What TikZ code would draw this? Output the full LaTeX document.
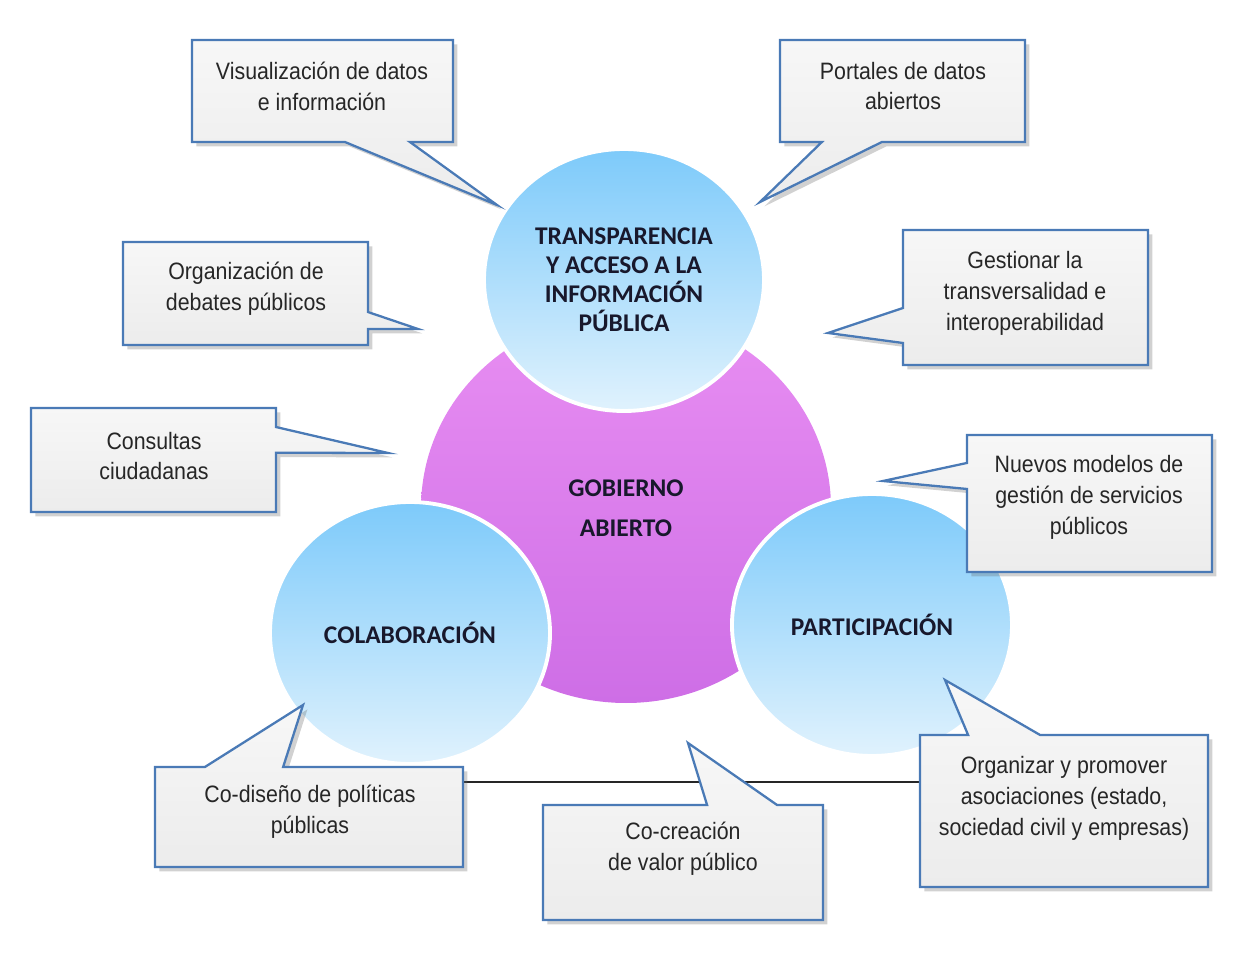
\documentclass[tikz,border=0pt]{standalone}
\usepackage{fontspec}
\setmainfont{Liberation Sans}
\newfontfamily\callfont{Liberation Sans}[FakeStretch=0.9]
\newfontfamily\circfont{Carlito}
\usetikzlibrary{calc, shapes.geometric, shadows}
\definecolor{boxblue}{RGB}{74,122,182}
\definecolor{boxtop}{RGB}{247,247,247}
\definecolor{boxbot}{RGB}{236,236,236}
\definecolor{skytop}{RGB}{125,202,250}
\definecolor{skybot}{RGB}{224,242,253}
\definecolor{magtop}{RGB}{232,142,242}
\definecolor{magmid}{RGB}{210,114,234}
\definecolor{magbot}{RGB}{206,110,230}
\definecolor{inktext}{RGB}{38,38,38}
\definecolor{inkbold}{RGB}{24,24,44}
\pgfdeclarelayer{front}
\pgfsetlayers{main,front}

\begin{document}
\begin{tikzpicture}[x=0.02cm, y=-0.02cm,
    blob/.style={ellipse, inner sep=0pt, text=inkbold, align=center,
                 font=\circfont\bfseries\fontsize{14.5}{16.5}\selectfont},
    pillar/.style={blob, minimum width=280*0.02cm, minimum height=262*0.02cm,
                   draw=white, line width=2.2pt, top color=skytop, bottom color=skybot},
    callbox/.style 2 args={rectangle, inner sep=0pt, outer sep=0pt,
                   minimum width=#1*0.02cm, minimum height=#2*0.02cm},
    callline/.style={draw=boxblue, line width=1.3pt, top color=boxtop, bottom color=boxbot,
                   drop shadow={shadow xshift=2.5pt, shadow yshift=-2.5pt, opacity=0.3, fill=black!60}},
    calltext/.style={font=\callfont\fontsize{13.5}{17.6}\selectfont, text=inktext, align=center}]
  \useasboundingbox (0,0) rectangle (1254,962);

  % core and the three pillars
  \node[blob, minimum width=410*0.02cm, minimum height=390*0.02cm,
        top color=magtop, middle color=magmid, bottom color=magbot,
        font=\circfont\bfseries\fontsize{14.5}{22.8}\selectfont] (gobierno) at (626,508) {GOBIERNO\\ABIERTO};
  \node[pillar] (transp) at (624,280) {TRANSPARENCIA\\Y ACCESO A LA\\INFORMACIÓN\\PÚBLICA};
  \node[pillar] (colab) at (410,633) {COLABORACIÓN};
  \node[pillar] (partic) at (872,625) {PARTICIPACIÓN};

  % callout frames (empty) and pointer tips
  \foreach \n/\x/\y/\w/\h in {visual/322.5/91/261/102, portal/902.5/91/245/102,
      debate/245.5/293.5/245/103, gestion/1025.5/297.5/245/135, consulta/153.5/460/245/104,
      nuevo/1089.5/503.5/245/137, codiseno/309/817/308/100, cocrea/683/862.5/280/115,
      organiz/1064/811/288/152}
    \node[callbox={\w}{\h}] (\n) at (\x,\y) {};
  \foreach \n/\x/\y in {visual/497/205, portal/760/202, debate/418/329, gestion/828/333,
      consulta/388/453, nuevo/883/481, codiseno/303/705, cocrea/688/743, organiz/945/680}
    \coordinate (\n-tip) at (\x,\y);

  \begin{pgfonlayer}{front}
    % rule under the bottom row
    \coordinate (rule) at ($(codiseno.north east)!0.15!(codiseno.south east)$);
    \draw[black!85, line width=0.9pt] (rule) -- (rule -| organiz.west);

    % speech bubbles
    \draw[callline] (visual.north west) -- (visual.north east) -- (visual.south east)
      -- ($(visual.south west)!0.835!(visual.south east)$) -- (visual-tip)
      -- ($(visual.south west)!0.586!(visual.south east)$) -- (visual.south west) -- cycle;
    \draw[callline] (portal.north west) -- (portal.north east) -- (portal.south east)
      -- ($(portal.south west)!0.416!(portal.south east)$) -- (portal-tip)
      -- ($(portal.south west)!0.171!(portal.south east)$) -- (portal.south west) -- cycle;
    \draw[callline] (debate.north west) -- (debate.north east)
      -- ($(debate.north east)!0.68!(debate.south east)$) -- (debate-tip)
      -- ($(debate.north east)!0.845!(debate.south east)$) -- (debate.south east) -- (debate.south west) -- cycle;
    \draw[callline] (gestion.north west) -- (gestion.north east) -- (gestion.south east) -- (gestion.south west)
      -- ($(gestion.north west)!0.837!(gestion.south west)$) -- (gestion-tip)
      -- ($(gestion.north west)!0.578!(gestion.south west)$) -- cycle;
    \draw[callline] (consulta.north west) -- (consulta.north east)
      -- ($(consulta.north east)!0.183!(consulta.south east)$) -- (consulta-tip)
      -- ($(consulta.north east)!0.43!(consulta.south east)$) -- (consulta.south east) -- (consulta.south west) -- cycle;
    \draw[callline] (nuevo.north west) -- (nuevo.north east) -- (nuevo.south east) -- (nuevo.south west)
      -- ($(nuevo.north west)!0.394!(nuevo.south west)$) -- (nuevo-tip)
      -- ($(nuevo.north west)!0.204!(nuevo.south west)$) -- cycle;
    \draw[callline] (codiseno.north west) -- ($(codiseno.north west)!0.162!(codiseno.north east)$) -- (codiseno-tip)
      -- ($(codiseno.north west)!0.416!(codiseno.north east)$) -- (codiseno.north east)
      -- (codiseno.south east) -- (codiseno.south west) -- cycle;
    \draw[callline] (cocrea.north west) -- ($(cocrea.north west)!0.586!(cocrea.north east)$) -- (cocrea-tip)
      -- ($(cocrea.north west)!0.836!(cocrea.north east)$) -- (cocrea.north east)
      -- (cocrea.south east) -- (cocrea.south west) -- cycle;
    \draw[callline] (organiz.north west) -- ($(organiz.north west)!0.167!(organiz.north east)$) -- (organiz-tip)
      -- ($(organiz.north west)!0.417!(organiz.north east)$) -- (organiz.north east)
      -- (organiz.south east) -- (organiz.south west) -- cycle;

    % bubble texts
    \node[calltext] (visual-t) at (322,86) {Visualización de datos\\e información};
    \node[calltext] (portal-t) at (903,86) {Portales de datos\\abiertos};
    \node[calltext] (debate-t) at (246,289) {Organización de\\debates públicos};
    \node[calltext] (gestion-t) at (1025,293) {Gestionar la\\transversalidad e\\interoperabilidad};
    \node[calltext] (consulta-t) at (154,456) {Consultas\\ciudadanas};
    \node[calltext] (nuevo-t) at (1089,497) {Nuevos modelos de\\gestión de servicios\\públicos};
    \node[calltext] (codiseno-t) at (310,812) {Co-diseño de políticas\\públicas};
    \node[calltext] (cocrea-t) at (683,849) {Co-creación\\de valor público};
    \node[calltext] (organiz-t) at (1064,798) {Organizar y promover\\asociaciones (estado,\\sociedad civil y empresas)};
  \end{pgfonlayer}
\end{tikzpicture}
\end{document}
